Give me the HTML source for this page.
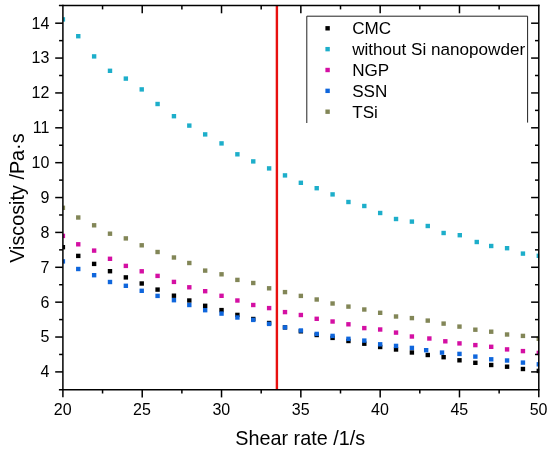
<!DOCTYPE html>
<html lang="en"><head><meta charset="utf-8"><title>Viscosity vs shear rate</title>
<style>
html,body{margin:0;padding:0;background:#fff;}
body{width:550px;height:451px;overflow:hidden;}
svg{display:block;will-change:transform;font-family:"Liberation Sans",Arial,sans-serif;fill:#000;}
.tk{font-size:16px;}
.lb{font-size:19.8px;}
.lg{font-size:17.1px;}
</style></head><body>
<svg width="550" height="451" viewBox="0 0 550 451">
<rect width="550" height="451" fill="#fff"/>
<defs><clipPath id="plot"><rect x="62.90" y="5.60" width="476.30" height="384.10"/></clipPath></defs>

<g clip-path="url(#plot)" stroke="none">
<g fill="#000000">
<rect x="60.70" y="245.00" width="4.4" height="4.4"/>
<rect x="76.06" y="253.70" width="4.4" height="4.4"/>
<rect x="91.93" y="261.70" width="4.4" height="4.4"/>
<rect x="107.79" y="269.00" width="4.4" height="4.4"/>
<rect x="123.65" y="275.20" width="4.4" height="4.4"/>
<rect x="139.52" y="281.30" width="4.4" height="4.4"/>
<rect x="155.38" y="287.40" width="4.4" height="4.4"/>
<rect x="171.74" y="293.50" width="4.4" height="4.4"/>
<rect x="187.11" y="298.30" width="4.4" height="4.4"/>
<rect x="202.97" y="303.60" width="4.4" height="4.4"/>
<rect x="219.33" y="307.90" width="4.4" height="4.4"/>
<rect x="235.20" y="312.70" width="4.4" height="4.4"/>
<rect x="251.06" y="316.80" width="4.4" height="4.4"/>
<rect x="266.92" y="320.80" width="4.4" height="4.4"/>
<rect x="282.79" y="325.20" width="4.4" height="4.4"/>
<rect x="298.65" y="329.10" width="4.4" height="4.4"/>
<rect x="314.51" y="332.80" width="4.4" height="4.4"/>
<rect x="330.38" y="335.70" width="4.4" height="4.4"/>
<rect x="346.24" y="338.80" width="4.4" height="4.4"/>
<rect x="362.10" y="341.50" width="4.4" height="4.4"/>
<rect x="377.97" y="344.80" width="4.4" height="4.4"/>
<rect x="393.83" y="347.30" width="4.4" height="4.4"/>
<rect x="409.69" y="350.30" width="4.4" height="4.4"/>
<rect x="425.56" y="352.80" width="4.4" height="4.4"/>
<rect x="441.42" y="355.00" width="4.4" height="4.4"/>
<rect x="457.28" y="358.10" width="4.4" height="4.4"/>
<rect x="473.15" y="360.60" width="4.4" height="4.4"/>
<rect x="489.01" y="362.80" width="4.4" height="4.4"/>
<rect x="504.87" y="364.50" width="4.4" height="4.4"/>
<rect x="520.74" y="366.80" width="4.4" height="4.4"/>
<rect x="536.60" y="368.70" width="4.4" height="4.4"/>
</g>
<g fill="#1daeca">
<rect x="60.70" y="17.20" width="4.4" height="4.4"/>
<rect x="76.06" y="34.00" width="4.4" height="4.4"/>
<rect x="91.93" y="54.20" width="4.4" height="4.4"/>
<rect x="107.79" y="68.60" width="4.4" height="4.4"/>
<rect x="123.65" y="76.40" width="4.4" height="4.4"/>
<rect x="139.52" y="87.20" width="4.4" height="4.4"/>
<rect x="155.38" y="101.80" width="4.4" height="4.4"/>
<rect x="171.74" y="114.00" width="4.4" height="4.4"/>
<rect x="187.11" y="123.40" width="4.4" height="4.4"/>
<rect x="202.97" y="132.20" width="4.4" height="4.4"/>
<rect x="219.33" y="141.20" width="4.4" height="4.4"/>
<rect x="235.20" y="152.10" width="4.4" height="4.4"/>
<rect x="251.06" y="159.20" width="4.4" height="4.4"/>
<rect x="266.92" y="166.20" width="4.4" height="4.4"/>
<rect x="282.79" y="173.20" width="4.4" height="4.4"/>
<rect x="298.65" y="180.60" width="4.4" height="4.4"/>
<rect x="314.51" y="186.00" width="4.4" height="4.4"/>
<rect x="330.38" y="192.20" width="4.4" height="4.4"/>
<rect x="346.24" y="199.80" width="4.4" height="4.4"/>
<rect x="362.10" y="203.80" width="4.4" height="4.4"/>
<rect x="377.97" y="210.80" width="4.4" height="4.4"/>
<rect x="393.83" y="216.80" width="4.4" height="4.4"/>
<rect x="409.69" y="219.40" width="4.4" height="4.4"/>
<rect x="425.56" y="223.80" width="4.4" height="4.4"/>
<rect x="441.42" y="230.80" width="4.4" height="4.4"/>
<rect x="457.58" y="233.00" width="4.4" height="4.4"/>
<rect x="474.55" y="239.80" width="4.4" height="4.4"/>
<rect x="489.01" y="243.80" width="4.4" height="4.4"/>
<rect x="504.87" y="246.00" width="4.4" height="4.4"/>
<rect x="520.74" y="251.40" width="4.4" height="4.4"/>
<rect x="536.60" y="253.60" width="4.4" height="4.4"/>
</g>
<g fill="#d40fa3">
<rect x="60.70" y="233.70" width="4.4" height="4.4"/>
<rect x="76.06" y="242.10" width="4.4" height="4.4"/>
<rect x="91.93" y="248.40" width="4.4" height="4.4"/>
<rect x="107.79" y="256.60" width="4.4" height="4.4"/>
<rect x="123.65" y="263.70" width="4.4" height="4.4"/>
<rect x="139.52" y="269.10" width="4.4" height="4.4"/>
<rect x="155.38" y="273.70" width="4.4" height="4.4"/>
<rect x="171.74" y="279.70" width="4.4" height="4.4"/>
<rect x="187.11" y="285.10" width="4.4" height="4.4"/>
<rect x="202.97" y="289.00" width="4.4" height="4.4"/>
<rect x="219.33" y="293.60" width="4.4" height="4.4"/>
<rect x="235.20" y="298.30" width="4.4" height="4.4"/>
<rect x="251.06" y="302.80" width="4.4" height="4.4"/>
<rect x="266.92" y="305.90" width="4.4" height="4.4"/>
<rect x="282.79" y="309.90" width="4.4" height="4.4"/>
<rect x="298.65" y="312.80" width="4.4" height="4.4"/>
<rect x="314.51" y="316.60" width="4.4" height="4.4"/>
<rect x="330.38" y="319.30" width="4.4" height="4.4"/>
<rect x="346.24" y="322.10" width="4.4" height="4.4"/>
<rect x="362.10" y="325.90" width="4.4" height="4.4"/>
<rect x="377.97" y="327.30" width="4.4" height="4.4"/>
<rect x="393.83" y="330.40" width="4.4" height="4.4"/>
<rect x="409.69" y="334.30" width="4.4" height="4.4"/>
<rect x="427.16" y="336.30" width="4.4" height="4.4"/>
<rect x="443.12" y="339.10" width="4.4" height="4.4"/>
<rect x="457.28" y="341.20" width="4.4" height="4.4"/>
<rect x="473.15" y="342.90" width="4.4" height="4.4"/>
<rect x="489.01" y="344.60" width="4.4" height="4.4"/>
<rect x="504.87" y="347.20" width="4.4" height="4.4"/>
<rect x="520.74" y="348.90" width="4.4" height="4.4"/>
<rect x="536.60" y="350.70" width="4.4" height="4.4"/>
</g>
<g fill="#0f66dc">
<rect x="60.70" y="259.20" width="4.4" height="4.4"/>
<rect x="76.06" y="266.80" width="4.4" height="4.4"/>
<rect x="91.93" y="273.00" width="4.4" height="4.4"/>
<rect x="107.79" y="279.80" width="4.4" height="4.4"/>
<rect x="123.65" y="283.60" width="4.4" height="4.4"/>
<rect x="139.52" y="288.60" width="4.4" height="4.4"/>
<rect x="155.38" y="293.70" width="4.4" height="4.4"/>
<rect x="171.74" y="298.00" width="4.4" height="4.4"/>
<rect x="187.11" y="302.80" width="4.4" height="4.4"/>
<rect x="202.97" y="308.00" width="4.4" height="4.4"/>
<rect x="219.33" y="311.40" width="4.4" height="4.4"/>
<rect x="235.20" y="315.30" width="4.4" height="4.4"/>
<rect x="251.06" y="317.70" width="4.4" height="4.4"/>
<rect x="266.92" y="321.70" width="4.4" height="4.4"/>
<rect x="282.79" y="325.20" width="4.4" height="4.4"/>
<rect x="298.65" y="328.30" width="4.4" height="4.4"/>
<rect x="314.51" y="331.70" width="4.4" height="4.4"/>
<rect x="330.38" y="333.70" width="4.4" height="4.4"/>
<rect x="346.24" y="336.60" width="4.4" height="4.4"/>
<rect x="362.10" y="338.40" width="4.4" height="4.4"/>
<rect x="377.97" y="342.10" width="4.4" height="4.4"/>
<rect x="393.83" y="343.70" width="4.4" height="4.4"/>
<rect x="409.69" y="345.70" width="4.4" height="4.4"/>
<rect x="423.96" y="348.00" width="4.4" height="4.4"/>
<rect x="439.82" y="350.40" width="4.4" height="4.4"/>
<rect x="457.28" y="351.70" width="4.4" height="4.4"/>
<rect x="473.15" y="354.40" width="4.4" height="4.4"/>
<rect x="489.01" y="357.10" width="4.4" height="4.4"/>
<rect x="504.87" y="358.30" width="4.4" height="4.4"/>
<rect x="520.74" y="360.40" width="4.4" height="4.4"/>
<rect x="536.60" y="362.10" width="4.4" height="4.4"/>
</g>
<g fill="#828657">
<rect x="60.70" y="205.60" width="4.4" height="4.4"/>
<rect x="76.06" y="215.30" width="4.4" height="4.4"/>
<rect x="91.93" y="223.10" width="4.4" height="4.4"/>
<rect x="107.79" y="231.50" width="4.4" height="4.4"/>
<rect x="123.65" y="236.20" width="4.4" height="4.4"/>
<rect x="139.52" y="243.10" width="4.4" height="4.4"/>
<rect x="155.38" y="249.80" width="4.4" height="4.4"/>
<rect x="171.74" y="255.30" width="4.4" height="4.4"/>
<rect x="187.11" y="260.80" width="4.4" height="4.4"/>
<rect x="202.97" y="268.40" width="4.4" height="4.4"/>
<rect x="219.33" y="272.10" width="4.4" height="4.4"/>
<rect x="235.20" y="277.70" width="4.4" height="4.4"/>
<rect x="251.06" y="280.80" width="4.4" height="4.4"/>
<rect x="266.92" y="286.10" width="4.4" height="4.4"/>
<rect x="282.79" y="289.90" width="4.4" height="4.4"/>
<rect x="298.65" y="293.70" width="4.4" height="4.4"/>
<rect x="314.51" y="297.30" width="4.4" height="4.4"/>
<rect x="330.38" y="301.30" width="4.4" height="4.4"/>
<rect x="346.24" y="304.40" width="4.4" height="4.4"/>
<rect x="362.10" y="307.30" width="4.4" height="4.4"/>
<rect x="377.97" y="310.60" width="4.4" height="4.4"/>
<rect x="393.83" y="314.30" width="4.4" height="4.4"/>
<rect x="409.69" y="315.90" width="4.4" height="4.4"/>
<rect x="425.56" y="318.40" width="4.4" height="4.4"/>
<rect x="441.42" y="321.40" width="4.4" height="4.4"/>
<rect x="457.28" y="324.40" width="4.4" height="4.4"/>
<rect x="473.15" y="327.50" width="4.4" height="4.4"/>
<rect x="489.01" y="329.50" width="4.4" height="4.4"/>
<rect x="504.87" y="332.30" width="4.4" height="4.4"/>
<rect x="520.74" y="333.70" width="4.4" height="4.4"/>
<rect x="536.60" y="336.60" width="4.4" height="4.4"/>
</g>
</g>
<line x1="276.9" y1="5.60" x2="276.9" y2="389.70" stroke="#e8100f" stroke-width="2.4"/>
<g stroke="#000" stroke-width="1.50" fill="none" stroke-linecap="butt">
<line x1="58.90" y1="5.60" x2="539.55" y2="5.60"/>
<line x1="58.90" y1="389.70" x2="539.55" y2="389.70"/>
<line x1="62.90" y1="4.85" x2="62.90" y2="397.30"/>
<line x1="538.80" y1="4.85" x2="538.80" y2="397.30"/>
<line x1="102.56" y1="389.70" x2="102.56" y2="393.50"/>
<line x1="102.56" y1="5.60" x2="102.56" y2="9.40"/>
<line x1="142.22" y1="389.70" x2="142.22" y2="397.40"/>
<line x1="142.22" y1="5.60" x2="142.22" y2="13.30"/>
<line x1="181.88" y1="389.70" x2="181.88" y2="393.50"/>
<line x1="181.88" y1="5.60" x2="181.88" y2="9.40"/>
<line x1="221.53" y1="389.70" x2="221.53" y2="397.40"/>
<line x1="221.53" y1="5.60" x2="221.53" y2="13.30"/>
<line x1="261.19" y1="389.70" x2="261.19" y2="393.50"/>
<line x1="261.19" y1="5.60" x2="261.19" y2="9.40"/>
<line x1="300.85" y1="389.70" x2="300.85" y2="397.40"/>
<line x1="300.85" y1="5.60" x2="300.85" y2="13.30"/>
<line x1="340.51" y1="389.70" x2="340.51" y2="393.50"/>
<line x1="340.51" y1="5.60" x2="340.51" y2="9.40"/>
<line x1="380.17" y1="389.70" x2="380.17" y2="397.40"/>
<line x1="380.17" y1="5.60" x2="380.17" y2="13.30"/>
<line x1="419.82" y1="389.70" x2="419.82" y2="393.50"/>
<line x1="419.82" y1="5.60" x2="419.82" y2="9.40"/>
<line x1="459.48" y1="389.70" x2="459.48" y2="397.40"/>
<line x1="459.48" y1="5.60" x2="459.48" y2="13.30"/>
<line x1="499.14" y1="389.70" x2="499.14" y2="393.50"/>
<line x1="499.14" y1="5.60" x2="499.14" y2="9.40"/>
<line x1="55.20" y1="371.90" x2="62.90" y2="371.90"/>
<line x1="531.10" y1="371.90" x2="538.80" y2="371.90"/>
<line x1="59.10" y1="354.46" x2="62.90" y2="354.46"/>
<line x1="535.00" y1="354.46" x2="538.80" y2="354.46"/>
<line x1="55.20" y1="337.03" x2="62.90" y2="337.03"/>
<line x1="531.10" y1="337.03" x2="538.80" y2="337.03"/>
<line x1="59.10" y1="319.59" x2="62.90" y2="319.59"/>
<line x1="535.00" y1="319.59" x2="538.80" y2="319.59"/>
<line x1="55.20" y1="302.16" x2="62.90" y2="302.16"/>
<line x1="531.10" y1="302.16" x2="538.80" y2="302.16"/>
<line x1="59.10" y1="284.72" x2="62.90" y2="284.72"/>
<line x1="535.00" y1="284.72" x2="538.80" y2="284.72"/>
<line x1="55.20" y1="267.29" x2="62.90" y2="267.29"/>
<line x1="531.10" y1="267.29" x2="538.80" y2="267.29"/>
<line x1="59.10" y1="249.85" x2="62.90" y2="249.85"/>
<line x1="535.00" y1="249.85" x2="538.80" y2="249.85"/>
<line x1="55.20" y1="232.42" x2="62.90" y2="232.42"/>
<line x1="531.10" y1="232.42" x2="538.80" y2="232.42"/>
<line x1="59.10" y1="214.98" x2="62.90" y2="214.98"/>
<line x1="535.00" y1="214.98" x2="538.80" y2="214.98"/>
<line x1="55.20" y1="197.55" x2="62.90" y2="197.55"/>
<line x1="531.10" y1="197.55" x2="538.80" y2="197.55"/>
<line x1="59.10" y1="180.11" x2="62.90" y2="180.11"/>
<line x1="535.00" y1="180.11" x2="538.80" y2="180.11"/>
<line x1="55.20" y1="162.68" x2="62.90" y2="162.68"/>
<line x1="531.10" y1="162.68" x2="538.80" y2="162.68"/>
<line x1="59.10" y1="145.25" x2="62.90" y2="145.25"/>
<line x1="535.00" y1="145.25" x2="538.80" y2="145.25"/>
<line x1="55.20" y1="127.81" x2="62.90" y2="127.81"/>
<line x1="531.10" y1="127.81" x2="538.80" y2="127.81"/>
<line x1="59.10" y1="110.38" x2="62.90" y2="110.38"/>
<line x1="535.00" y1="110.38" x2="538.80" y2="110.38"/>
<line x1="55.20" y1="92.94" x2="62.90" y2="92.94"/>
<line x1="531.10" y1="92.94" x2="538.80" y2="92.94"/>
<line x1="59.10" y1="75.50" x2="62.90" y2="75.50"/>
<line x1="535.00" y1="75.50" x2="538.80" y2="75.50"/>
<line x1="55.20" y1="58.07" x2="62.90" y2="58.07"/>
<line x1="531.10" y1="58.07" x2="538.80" y2="58.07"/>
<line x1="59.10" y1="40.63" x2="62.90" y2="40.63"/>
<line x1="535.00" y1="40.63" x2="538.80" y2="40.63"/>
<line x1="55.20" y1="23.20" x2="62.90" y2="23.20"/>
<line x1="531.10" y1="23.20" x2="538.80" y2="23.20"/>
</g>
<g class="tk" text-anchor="middle">
<text x="62.70" y="415.1">20</text>
<text x="142.02" y="415.1">25</text>
<text x="221.33" y="415.1">30</text>
<text x="300.65" y="415.1">35</text>
<text x="379.97" y="415.1">40</text>
<text x="459.28" y="415.1">45</text>
<text x="538.60" y="415.1">50</text>
</g>
<g class="tk" text-anchor="end">
<text x="49.3" y="377.30">4</text>
<text x="49.3" y="342.43">5</text>
<text x="49.3" y="307.56">6</text>
<text x="49.3" y="272.69">7</text>
<text x="49.3" y="237.82">8</text>
<text x="49.3" y="202.95">9</text>
<text x="49.3" y="168.08">10</text>
<text x="49.3" y="133.21">11</text>
<text x="49.3" y="98.34">12</text>
<text x="49.3" y="63.47">13</text>
<text x="49.3" y="28.60">14</text>
</g>
<text class="lb" x="235.3" y="445.3">Shear rate /1/s</text>
<text class="lb" transform="translate(23.8,262.8) rotate(-90)">Viscosity /Pa·s</text>
<path d="M306.8 123 V16.2 H527.6 V122.6" fill="none" stroke="#222" stroke-width="1"/>
<rect x="325.40" y="26.10" width="4.4" height="4.4" fill="#000000"/>
<text class="lg" x="352.2" y="34.20">CMC</text>
<rect x="325.40" y="46.95" width="4.4" height="4.4" fill="#1daeca"/>
<text class="lg" x="352.2" y="55.05">without Si nanopowder</text>
<rect x="325.40" y="67.80" width="4.4" height="4.4" fill="#d40fa3"/>
<text class="lg" x="352.2" y="75.90">NGP</text>
<rect x="325.40" y="88.65" width="4.4" height="4.4" fill="#0f66dc"/>
<text class="lg" x="352.2" y="96.75">SSN</text>
<rect x="325.40" y="109.50" width="4.4" height="4.4" fill="#828657"/>
<text class="lg" x="352.2" y="117.60">TSi</text>
</svg></body></html>
